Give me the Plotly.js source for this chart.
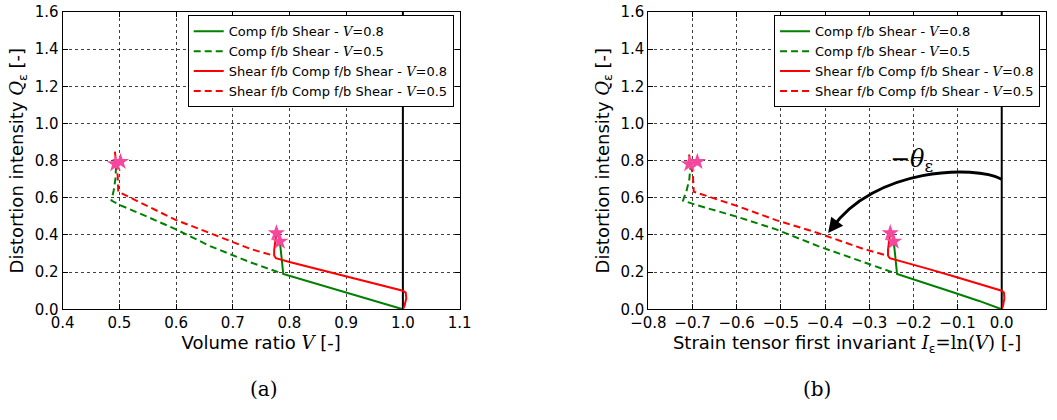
<!DOCTYPE html>
<html><head><meta charset="utf-8">
<script src="https://cdn.plot.ly/plotly-3.0.1.min.js"></script>
<style>html,body{margin:0;padding:0;background:#fff}</style>
</head><body><div id="chart" style="width:1057px;height:420px"></div>
<script>
// ---- data (volume ratio V, distortion intensity Q) ----
const comp08_V = [1.0, 0.95, 0.90, 0.85, 0.789, 0.786, 0.783];
const comp08_Q = [0.0, 0.045, 0.088, 0.133, 0.19, 0.28, 0.365];

const comp05_V = [0.78, 0.731, 0.66, 0.60, 0.55, 0.501, 0.486, 0.49, 0.493, 0.494];
const comp05_Q = [0.20, 0.253, 0.34, 0.43, 0.497, 0.561, 0.585, 0.64, 0.70, 0.76];

const shear08_V = [1.0, 1.003, 1.006, 1.005, 1.0, 0.95, 0.90, 0.85, 0.80, 0.776, 0.773, 0.773, 0.775, 0.777];
const shear08_Q = [0.0, 0.02, 0.06, 0.09, 0.10, 0.138, 0.175, 0.215, 0.255, 0.275, 0.29, 0.32, 0.37, 0.41];

const shear05_V = [0.766, 0.731, 0.66, 0.60, 0.55, 0.498, 0.497, 0.495, 0.492];
const shear05_Q = [0.294, 0.325, 0.41, 0.48, 0.555, 0.633, 0.72, 0.78, 0.85];

const star_V = [0.493, 0.502, 0.777, 0.783];
const star_Q = [0.782, 0.794, 0.41, 0.365];

const refLeft_X = [1.0, 1.0];
const refRight_X = [0.0, 0.0];
const ref_Y = [0.0, 1.6];

const seriesNames = [
  "Comp f/b Shear - <span style='font-family:DejaVu Serif;font-style:italic'>V</span>=0.8",
  "Comp f/b Shear - <span style='font-family:DejaVu Serif;font-style:italic'>V</span>=0.5",
  "Shear f/b Comp f/b Shear - <span style='font-family:DejaVu Serif;font-style:italic'>V</span>=0.8",
  "Shear f/b Comp f/b Shear - <span style='font-family:DejaVu Serif;font-style:italic'>V</span>=0.5"
];

// arc annotation (data coords of right panel)
const arcStart = [0.0, 0.70], arcC1 = [-0.06, 0.78], arcC2 = [-0.29, 0.76], arcEnd = [-0.385, 0.435];
const arrowTip = [-0.393, 0.41];
const thetaPos = [-0.205, 0.80];

// ---- build ----
const GREEN = '#008000', RED = '#ff0000', STAR = '#f5479e';
const DASH = '7px,4px';
const ln = a => a.map(v => Math.log(v));

function series(xs, ys, name, color, dash, xa, ya, leg, show) {
  return {x: xs, y: ys, type: 'scatter', mode: 'lines', name: name,
    line: {color: color, width: 2, dash: dash}, xaxis: xa, yaxis: ya,
    legend: leg, showlegend: show, hoverinfo: 'skip'};
}

const traces = [];
// left panel
traces.push({x: refLeft_X, y: ref_Y, type:'scatter', mode:'lines', line:{color:'#000', width:2}, xaxis:'x', yaxis:'y', showlegend:false, hoverinfo:'skip'});
traces.push(series(comp08_V, comp08_Q, seriesNames[0], GREEN, 'solid', 'x', 'y', 'legend', true));
traces.push(series(comp05_V, comp05_Q, seriesNames[1], GREEN, DASH, 'x', 'y', 'legend', true));
traces.push(series(shear08_V, shear08_Q, seriesNames[2], RED, 'solid', 'x', 'y', 'legend', true));
traces.push(series(shear05_V, shear05_Q, seriesNames[3], RED, DASH, 'x', 'y', 'legend', true));
traces.push({x: star_V, y: star_Q, type:'scatter', mode:'markers', marker:{symbol:'star', size:13, color:STAR, line:{width:0}}, xaxis:'x', yaxis:'y', showlegend:false, hoverinfo:'skip'});
// right panel
traces.push({x: refRight_X, y: ref_Y, type:'scatter', mode:'lines', line:{color:'#000', width:2}, xaxis:'x2', yaxis:'y2', showlegend:false, hoverinfo:'skip'});
traces.push(series(ln(comp08_V), comp08_Q, seriesNames[0], GREEN, 'solid', 'x2', 'y2', 'legend2', true));
traces.push(series(ln(comp05_V), comp05_Q, seriesNames[1], GREEN, DASH, 'x2', 'y2', 'legend2', true));
traces.push(series(ln(shear08_V), shear08_Q, seriesNames[2], RED, 'solid', 'x2', 'y2', 'legend2', true));
traces.push(series(ln(shear05_V), shear05_Q, seriesNames[3], RED, DASH, 'x2', 'y2', 'legend2', true));
traces.push({x: ln(star_V), y: star_Q, type:'scatter', mode:'markers', marker:{symbol:'star', size:13, color:STAR, line:{width:0}}, xaxis:'x2', yaxis:'y2', showlegend:false, hoverinfo:'skip'});

const FONT = 'DejaVu Sans';
const SERIF_I = (t) => "<span style='font-family:DejaVu Serif;font-style:italic'>" + t + "</span>";
const SERIF = (t) => "<span style='font-family:DejaVu Serif'>" + t + "</span>";

const gridCommon = {
  showgrid: true, gridcolor: 'rgba(0,0,0,0.75)', gridwidth: 1, griddash: 'dot',
  showline: true, linecolor: '#000', linewidth: 1, mirror: 'ticks',
  ticks: 'inside', ticklen: 5, tickwidth: 1, tickcolor: '#000',
  zeroline: false, tickfont: {size: 15, color: '#000', family: FONT},
  tickformat: '.1f', automargin: false, fixedrange: true
};
const yTitle = {text: 'Distortion intensity ' + SERIF_I('Q') + '<sub>ε</sub> [-]', font: {size: 18, color: '#000', family: FONT}, standoff: 6};

const legendCommon = {
  xanchor: 'left', yanchor: 'top', bgcolor: '#fff', bordercolor: '#000', borderwidth: 1,
  font: {size: 13, color: '#000', family: FONT}
};

const layout = {
  width: 1057, height: 420, margin: {l: 0, r: 0, t: 0, b: 0},
  paper_bgcolor: '#fff', plot_bgcolor: '#fff', font: {family: FONT, color: '#000'},
  xaxis: Object.assign({}, gridCommon, {domain: [0.0593, 0.4348], range: [0.4, 1.1], dtick: 0.1, tick0: 0.4, anchor: 'y',
    title: {text: 'Volume ratio ' + SERIF_I('V') + ' [-]', font: {size: 18, color: '#000', family: FONT}, standoff: 2}}),
  yaxis: Object.assign({}, gridCommon, {domain: [0.2636, 0.9714], range: [0, 1.6], dtick: 0.2, tick0: 0, anchor: 'x', title: yTitle}),
  xaxis2: Object.assign({}, gridCommon, {domain: [0.6134, 0.9895], range: [-0.8, 0.1], dtick: 0.1, tick0: -0.8, anchor: 'y2',
    title: {text: 'Strain tensor first invariant ' + SERIF_I('I') + '<sub>ε</sub>' + SERIF('=ln(') + SERIF_I('V') + SERIF(')') + ' [-]', font: {size: 18, color: '#000', family: FONT}, standoff: 2}}),
  yaxis2: Object.assign({}, gridCommon, {domain: [0.2636, 0.9714], range: [0, 1.6], dtick: 0.2, tick0: 0, anchor: 'x2', title: yTitle}),
  legend: Object.assign({}, legendCommon, {x: 0.1776, y: 0.9636}),
  legend2: Object.assign({}, legendCommon, {x: 0.7323, y: 0.9636}),
  shapes: [{
    type: 'path', xref: 'x2', yref: 'y2',
    path: 'M ' + arcStart.join(',') + ' C ' + arcC1.join(',') + ' ' + arcC2.join(',') + ' ' + arcEnd.join(','),
    line: {color: '#000', width: 3}
  }],
  annotations: [
    {xref: 'x2', yref: 'y2', axref: 'x2', ayref: 'y2', x: arrowTip[0], y: arrowTip[1], ax: arcEnd[0], ay: arcEnd[1],
     showarrow: true, arrowhead: 2, arrowsize: 1.2, arrowwidth: 2.5, arrowcolor: '#000', text: ''},
    {xref: 'x2', yref: 'y2', x: thetaPos[0], y: thetaPos[1], showarrow: false,
     text: '−<i>θ</i><sub>ε</sub>', font: {family: 'DejaVu Serif', size: 24, color: '#000'}},
    {xref: 'paper', yref: 'paper', x: 0.2346, y: 0.040, showarrow: false, text: '(a)',
     font: {family: 'DejaVu Serif', size: 20, color: '#000'}},
    {xref: 'paper', yref: 'paper', x: 0.788, y: 0.040, showarrow: false, text: '(b)',
     font: {family: 'DejaVu Serif', size: 20, color: '#000'}}
  ]
};

Plotly.newPlot('chart', traces, layout, {staticPlot: true, displayModeBar: false});
</script></body></html>
